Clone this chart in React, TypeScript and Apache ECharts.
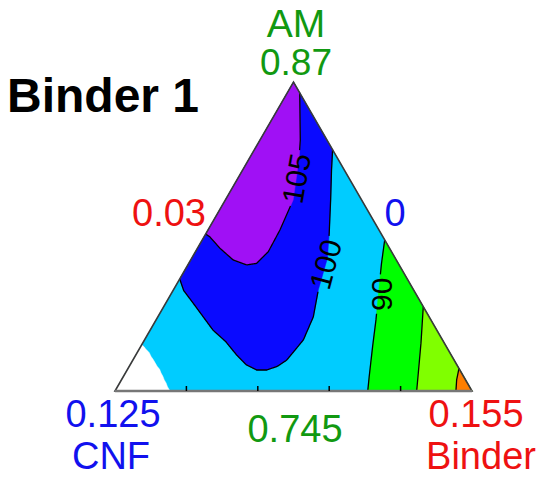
import React, { useEffect, useRef } from "react";
import * as echarts from "echarts";

// Pseudo-component ternary coordinates: [Binder fraction, AM fraction]; CNF = 1 - Binder - AM
const line105 = [[0.035,0.965],[0.113,0.812],[0.137,0.758],[0.163,0.69],[0.19,0.618],[0.2015,0.521],[0.204,0.451],[0.19,0.413],[0.165,0.408],[0.119,0.424],[0.063,0.462],[0.016,0.499],[0,0.508]];
const line100 = [[0.219,0.781],[0.249,0.715],[0.295,0.618],[0.345,0.51],[0.38,0.43],[0.406,0.327],[0.4355,0.24],[0.445,0.165],[0.431,0.1],[0.415,0.08],[0.391,0.068],[0.363,0.068],[0.325,0.085],[0.2825,0.1165],[0.23,0.16],[0.176,0.197],[0.076,0.285],[0.03,0.325],[0,0.3625]];
const line90 = [[0.511,0.489],[0.54,0.413],[0.58,0.316],[0.616,0.23],[0.65,0.143],[0.689,0.046],[0.708,0]];
const line85 = [[0.727,0.273],[0.78,0.154],[0.821,0.057],[0.845,0]];
const line80 = [[0.927,0.073],[0.939,0.036],[0.955,0]];
const blankEdge = [[0,0.15],[0.01,0.143],[0.018,0.136],[0.026,0.13],[0.034,0.124],[0.045,0.112],[0.056,0.102],[0.066,0.092],[0.078,0.08],[0.09,0.07],[0.1,0.058],[0.11,0.048],[0.12,0.036],[0.13,0.026],[0.14,0.014],[0.148,0.006],[0.155,0]];

const contourLevels = ["105", "100", "90"];
const contourLabelPoints = [[0.164,0.688],[0.385,0.41],[0.589,0.313]];
const bottomTicks = [0.2, 0.4, 0.6, 0.8];

const COLORS = {
  cyan: "#00ccff",
  blue: "#0a0aff",
  purple: "#a010f5",
  green: "#00ff00",
  lime: "#80ff00",
  orange: "#ff7f00",
  blank: "#ffffff",
};

const regions = [
  { pts: [[0,0],[1,0],[0,1]], color: COLORS.cyan },
  { pts: [...line100, [0,1]], color: COLORS.blue },
  { pts: [...line105, [0,1]], color: COLORS.purple },
  { pts: [...line90, [1,0]], color: COLORS.green },
  { pts: [...line85, [1,0]], color: COLORS.lime },
  { pts: [...line80, [1,0]], color: COLORS.orange },
  { pts: [...blankEdge, [0,0]], color: COLORS.blank },
];

const contourLines = [line105, line100, line90, line85, line80];
const labelAngles = [80, 75, 90];

const toXY = (p: number[]) => [p[0] + p[1] / 2, p[1]];

const FONT = '"Liberation Sans", Arial, sans-serif';

export default function App() {
  const ref = useRef<HTMLDivElement>(null);
  useEffect(() => {
    if (!ref.current) return;
    const chart = echarts.init(ref.current, null, { renderer: "svg" });
    const grid = { left: 115, top: 82, width: 357, height: 309 };

    const textEl = (text: string, x: number, y: number, color: string, size: number, align = "center", weight = "normal") => ({
      type: "text",
      x,
      y,
      style: {
        text,
        fill: color,
        fontSize: size,
        fontFamily: FONT,
        fontWeight: weight,
        align,
        verticalAlign: "middle",
        textAlign: align,
        textVerticalAlign: "middle",
      },
    });

    const option: any = {
      animation: false,
      grid,
      xAxis: { type: "value", min: 0, max: 1, show: false },
      yAxis: { type: "value", min: 0, max: 1, show: false },
      series: [
        {
          type: "custom",
          clip: false,
          data: regions.map((_, i) => [i]),
          renderItem: (params: any, api: any) => {
            const r = regions[params.dataIndex];
            return {
              type: "polygon",
              shape: { points: r.pts.map((p) => api.coord(toXY(p))) },
              style: { fill: r.color, stroke: r.color, lineWidth: 0.5 },
            };
          },
        },
        {
          type: "custom",
          clip: false,
          data: contourLines.map((_, i) => [i]),
          renderItem: (params: any, api: any) => {
            const i = params.dataIndex;
            const px = contourLines[i].map((p) => api.coord(toXY(p)));
            const children: any[] = [];
            let center: number[] | null = null;
            let radius = 0;
            if (i < contourLevels.length) {
              center = api.coord(toXY(contourLabelPoints[i]));
              radius = (contourLevels[i].length * 30 * 0.556) / 2 + 3;
            }
            const runs: number[][][] = [];
            let run: number[][] = [];
            for (let k = 0; k < px.length - 1; k++) {
              const a = px[k], b = px[k + 1];
              const steps = 30;
              for (let s = 0; s <= steps; s++) {
                const t = s / steps;
                const q = [a[0] + (b[0] - a[0]) * t, a[1] + (b[1] - a[1]) * t];
                const out = !center || Math.hypot(q[0] - center[0], q[1] - center[1]) > radius;
                if (out) run.push(q);
                else if (run.length) { runs.push(run); run = []; }
              }
            }
            if (run.length) runs.push(run);
            runs.forEach((r) => {
              if (r.length > 1)
                children.push({ type: "polyline", shape: { points: r }, style: { stroke: "#000", lineWidth: 1.3, fill: null } });
            });
            if (center) {
              children.push({
                type: "text",
                x: center[0],
                y: center[1],
                rotation: (labelAngles[i] * Math.PI) / 180,
                style: {
                  text: contourLevels[i],
                  fill: "#000",
                  fontSize: 30,
                  fontFamily: FONT,
                  align: "center",
                  verticalAlign: "middle",
                },
              });
            }
            return { type: "group", children };
          },
        },
        {
          type: "custom",
          clip: false,
          data: [[0]],
          renderItem: (params: any, api: any) => {
            const A = api.coord(toXY([0, 0]));
            const B = api.coord(toXY([1, 0]));
            const C = api.coord(toXY([0, 1]));
            const children: any[] = [
              { type: "polygon", shape: { points: [A, B, C] }, style: { fill: null, stroke: "#3a3a3a", lineWidth: 1.6 } },
              { type: "line", shape: { x1: A[0], y1: A[1], x2: B[0], y2: B[1] }, style: { stroke: "#777", lineWidth: 2.5 } },
            ];
            bottomTicks.forEach((b) => {
              const p = api.coord(toXY([b, 0]));
              children.push({ type: "line", shape: { x1: p[0], y1: p[1], x2: p[0], y2: p[1] - 5 }, style: { stroke: "#000", lineWidth: 1.5 } });
            });
            return { type: "group", children };
          },
        },
      ],
      graphic: [
        textEl("AM", 296, 23, "#119911", 39),
        textEl("0.87", 296, 62, "#119911", 37),
        textEl("Binder 1", 7, 95, "#000", 48, "left", "bold"),
        textEl("0.03", 206, 213, "#ee1111", 38, "right"),
        textEl("0", 395, 213, "#1111ee", 38),
        textEl("0.125", 113, 414, "#1111ee", 38),
        textEl("CNF", 111, 456, "#1111ee", 38),
        textEl("0.745", 295, 429, "#119911", 38),
        textEl("0.155", 476, 414, "#ee1111", 38),
        textEl("Binder", 481, 456, "#ee1111", 38),
      ],
    };
    chart.setOption(option);
    return () => chart.dispose();
  }, []);
  return <div ref={ref} style={{ position: "fixed", left: 0, top: 0, width: 550, height: 477, background: "#fff" }} />;
}
